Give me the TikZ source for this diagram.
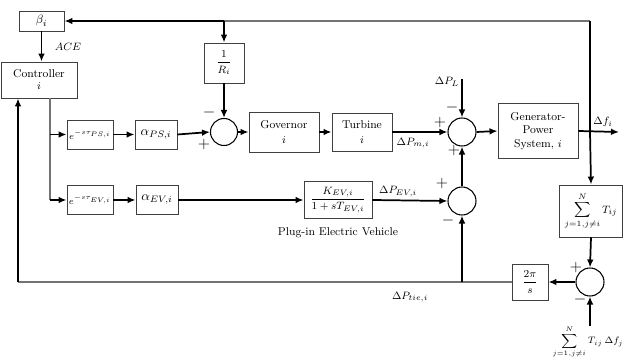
\documentclass[tikz,border=0pt]{standalone}
\usepackage{amsmath}
\usetikzlibrary{arrows.meta,calc}
\begin{document}
\begin{tikzpicture}[x=0.75pt,y=-0.75pt,
  blk/.style={draw=black!75, line width=0.7pt, fill=white, inner sep=1pt, align=center, font=\fontsize{8.5}{10}\selectfont},
  sz/.style 2 args={minimum width=#1*0.75pt, minimum height=#2*0.75pt},
  sumc/.style={draw=black, line width=0.8pt, circle, fill=white, minimum size=27*0.75pt, inner sep=0pt},
  wire/.style={line width=1.3pt, black},
  gwire/.style={line width=1pt, black!55},
  arr/.style={-{Latex[length=6pt,width=5pt]}},
  sgn/.style={font=\fontsize{12}{12}\selectfont, inner sep=0pt},
  lbl/.style={font=\fontsize{8}{9}\selectfont, inner sep=1pt}]
\useasboundingbox (0,0) rectangle (625,363);

% blocks
\node[blk, sz={45}{20}, font=\fontsize{9.5}{10}\selectfont] (beta) at (41.5,21) {$\beta_i$};
\node[blk, sz={76}{36}] (ctrl) at (39,80) {Controller\\[-1pt] $i$};
\node[blk, sz={40}{40}] (rinv) at (224,63) {$\dfrac{1}{R_i}$};
\node[sumc] (s1) at (224,132) {};
\node[blk, sz={70}{40}] (gov) at (284,132) {Governor\\[1pt] $i$};
\node[blk, sz={60}{38}] (turb) at (362,132) {Turbine\\[1pt] $i$};
\node[sumc, minimum size=28*0.75pt] (s2) at (462,132) {};
\node[blk, sz={80}{55}] (gen) at (538,131) {Generator-\\Power\\System, $i$};
\node[blk, sz={63}{52}, font=\fontsize{8}{9}\selectfont] (sumT) at (591,211) {$\displaystyle\sum_{j=1,j\neq i}^{N} T_{ij}$};
\node[sumc, minimum size=28*0.75pt] (s3) at (590,282) {};
\node[blk, sz={36}{36}] (tps) at (530,282) {$\dfrac{2\pi}{s}$};
\node[sumc, minimum size=28*0.75pt] (s4) at (462,201) {};
\node[blk, sz={46}{29}, font=\fontsize{7.5}{8}\selectfont] (dps) at (90,134.5) {$e^{-s\tau_{PS,i}}$};
\node[blk, sz={42}{29}, font=\fontsize{10}{10}\selectfont] (aps) at (156,134.5) {$\alpha_{PS,i}$};
\node[blk, sz={46}{29}, font=\fontsize{7.5}{8}\selectfont] (dev) at (90,200) {$e^{-s\tau_{EV,i}}$};
\node[blk, sz={42}{29}, font=\fontsize{10}{10}\selectfont] (aev) at (157,200) {$\alpha_{EV,i}$};
\node[blk, sz={68}{37}] (kev) at (338,200) {$\dfrac{K_{EV,i}}{1+sT_{EV,i}}$};

% helper coordinates
\coordinate (tr) at (590,21);
\coordinate (fo) at (590,132);
\coordinate (rtap) at (224,21);
\coordinate (out) at (619,132);
\coordinate (pl) at (462,79);
\coordinate (bk) at (50,134.5);
\coordinate (bev) at (50,200);
\coordinate (fbc) at (18,282);
\coordinate (tiej) at (462,282);
\coordinate (sin) at (590,326);

% top feedback
\draw[gwire] (tr) -- (rtap);
\draw[wire, arr] (rtap) -- (beta.east);
\draw[wire] (fo) -- (tr);
\draw[wire, arr] (fo) -- (sumT.north);
\draw[wire, arr] (rtap) -- (rinv.north);
\draw[wire, arr] (rinv.south) -- (s1.north);
\draw[wire, arr] (beta.south) -- (ctrl.north -| beta.south);

% governor path
\draw[gwire] (ctrl.south -| bk) -- (bev);
\draw[wire, arr] (bk) -- (dps.west);
\draw[wire, arr] (dps.east) -- (aps.west);
\draw[wire, arr] (aps.east) -- (s1.west);
\draw[wire, arr] (s1.east) -- (gov.west);
\draw[wire, arr] (gov.east) -- (turb.west);
\draw[wire, arr] (turb.east) -- (s2.west);
\draw[wire, arr] (pl) -- (s2.north);
\draw[wire, arr] (s2.east) -- (gen.west);
\draw[wire, arr] (gen.east) -- (out);

% EV path
\draw[wire, arr] (bev) -- (dev.west);
\draw[wire, arr] (dev.east) -- (aev.west);
\draw[wire, arr] (aev.east) -- (kev.west);
\draw[wire, arr] (kev.east) -- (s4.west);
\draw[wire, arr] (s4.north) -- (s2.south);

% tie-line
\draw[wire, arr] (sumT.south) -- (s3.north);
\draw[wire, arr] (sin) -- (s3.south);
\draw[wire, arr] (s3.west) -- (tps.east);
\draw[gwire] (tps.west) -- (fbc);
\draw[wire, arr] (fbc) -- (ctrl.south -| fbc);
\draw[wire, arr] (tiej) -- (s4.south);

% signs
\node[sgn] (m1) at (209,113) {$-$};
\node[sgn] (p1) at (204,145) {$+$};
\node[sgn] (p2) at (440,123) {$+$};
\node[sgn] (m2) at (452,108) {$-$};
\node[sgn] (p3) at (454,151) {$+$};
\node[sgn] (p4) at (442,184) {$+$};
\node[sgn] (m4) at (448,221) {$-$};
\node[sgn] (p5) at (576,268) {$+$};
\node[sgn] (m5) at (580,300) {$-$};

% labels
\node[lbl] (ace) at (68,47) {$ACE$};
\node[lbl] (lpl) at (447,82) {$\Delta P_L$};
\node[lbl] (lpm) at (413,143) {$\Delta P_{m,i}$};
\node[lbl] (lfi) at (603,122) {$\Delta f_i$};
\node[lbl] (lpev) at (398,192) {$\Delta P_{EV,i}$};
\node[lbl] (ltie) at (410,297) {$\Delta P_{tie,i}$};
\node[lbl, font=\fontsize{8.5}{9}\selectfont] (pev) at (338,233) {Plug-in Electric Vehicle};
\node[lbl, font=\fontsize{7.5}{8}\selectfont] (lsum) at (588,342) {$\displaystyle\sum_{j=1,j\neq i}^{N} T_{ij}\,\Delta f_j$};
\end{tikzpicture}
\end{document}
